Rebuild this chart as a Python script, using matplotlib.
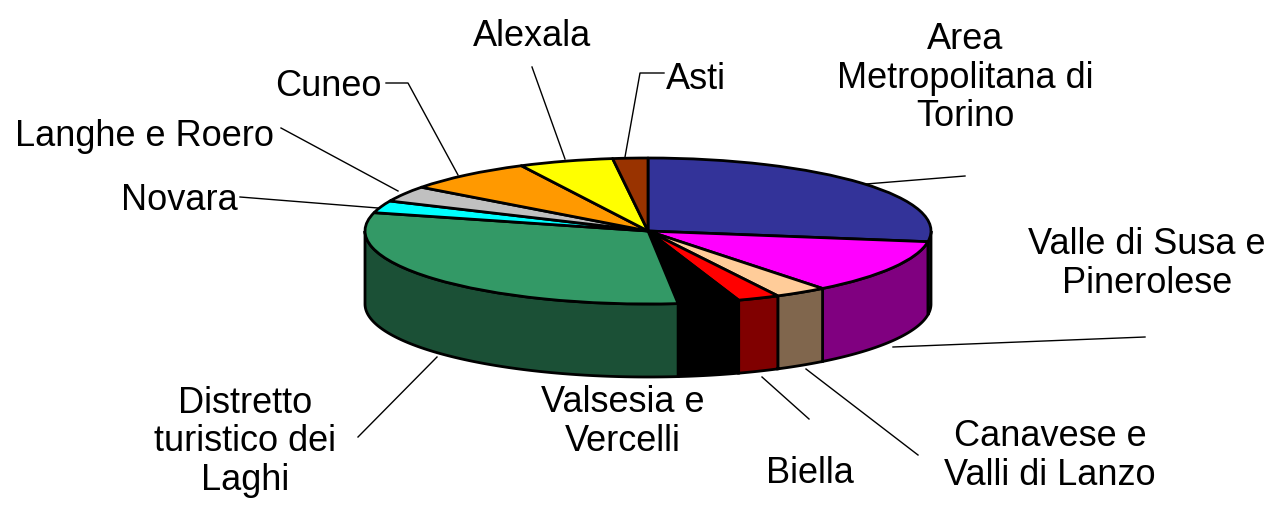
import numpy as np
import matplotlib
matplotlib.use("Agg")
import matplotlib.pyplot as plt
from matplotlib.patches import Polygon

plt.rcParams['font.family'] = ['Liberation Sans', 'DejaVu Sans']

# shares, clockwise from 12 o'clock
categories = ["Area\nMetropolitana di\nTorino", "Valle di Susa e\nPinerolese",
	"Canavese e\nValli di Lanzo", "Biella", "Valsesia e\nVercelli",
	"Distretto\nturistico dei\nLaghi", "Novara", "Langhe e Roero", "Cuneo", "Alexala", "Asti"]
values = [27.4, 12.1, 3.0, 2.4, 3.5, 30.8, 2.7, 3.5, 7.4, 5.4, 2.0]
top_colors = ["#333399", "#FF00FF", "#FFCC99", "#FF0000", "#000000", "#339966",
	"#00FFFF", "#C0C0C0", "#FF9900", "#FFFF00", "#993300"]
side_colors = ["#1B1B50", "#800080", "#80664D", "#800000", "#000000", "#1B5036",
	"#008080", "#606060", "#804D00", "#808000", "#4D1A00"]

# pie geometry in image pixels
W, H = 1275, 510
CX, CY, RX, RY, DEPTH = 648, 232, 283, 73, 73

# text centre (px), then the leader elbow and end (px), None for no leader
label_pos = [(965, 78), (1147, 264), (1050, 456), (810, 474), (623, 422),
	(245, 442), (179, 200), (145, 136), (328, 86), (532, 36), (696, 79)]
leader_pts = [[(965, 177), (866, 185)], [(1145, 338), (893, 348)], [(918, 456), (806, 370)],
	[(809, 420), (762, 378)], None, [(358, 438), (437, 358)], [(240, 198), (378, 209)],
	[(281, 129), (398, 192)], [(386, 84), (408, 84), (458, 176)], [(532, 68), (565, 160)],
	[(664, 74), (640, 74), (625, 158)]]


def px(x, y):
	return (x-CX)/RX, (CY-y)/RY


def ellipse_pts(t0, t1):
	t = np.radians(np.linspace(t0, t1, 120))
	return np.sin(t), np.cos(t)


fig = plt.figure(figsize=(W/100, H/100), dpi=100)
ax = fig.add_axes([0, 0, 1, 1])
wedges, _ = ax.pie(values, colors=top_colors, startangle=90, counterclock=False,
	wedgeprops={'edgecolor': 'black', 'linewidth': 2.0, 'joinstyle': 'round'})
ax.set_aspect('auto')
ax.set_xlim(px(0, 0)[0], px(W, 0)[0])
ax.set_ylim(px(0, H)[1], px(0, 0)[1])

# walls of the front half, below the pie top
edges = np.cumsum([0]+values)/sum(values)*360
for i in range(len(values)):
	t0 = max(edges[i], 90)
	t1 = min(edges[i+1], 270)
	if t1 <= t0:
		continue
	x, y = ellipse_pts(t0, t1)
	drop = DEPTH/RY
	outline = np.vstack([np.column_stack([x, y]), np.column_stack([x, y-drop])[::-1]])
	ax.add_patch(Polygon(outline, closed=True, facecolor=side_colors[i], edgecolor='black',
		linewidth=2.0, zorder=0.5))

for i in range(len(categories)):
	lx, ly = px(*label_pos[i])
	ax.text(lx, ly, categories[i], ha='center', va='center', fontsize=26, linespacing=1.14,
		color='black', zorder=5)
	if leader_pts[i] is not None:
		pts = np.array([px(a, b) for a, b in leader_pts[i]])
		ax.plot(pts[:, 0], pts[:, 1], color='black', linewidth=1.0, zorder=4)

fig.savefig("out.png", dpi=100)
